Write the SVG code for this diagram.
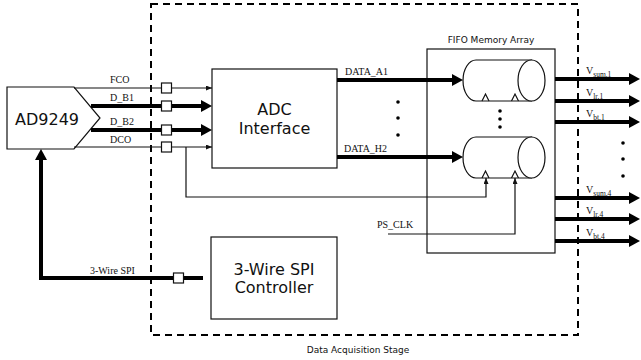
<svg xmlns="http://www.w3.org/2000/svg" width="641" height="360" viewBox="0 0 641 360">
<style>
.box{fill:#fff;stroke:#111;stroke-width:1.2}
.frame{fill:none;stroke:#111;stroke-width:1.2}
.thin{fill:none;stroke:#111;stroke-width:1.2}
.thick{fill:none;stroke:#000;stroke-width:4;stroke-linejoin:miter}
.sq{fill:#fff;stroke:#111;stroke-width:1.2}
.big{font-family:"DejaVu Sans",Verdana,sans-serif;font-size:16px;fill:#111;text-anchor:middle}
.small{font-family:"DejaVu Sans",Verdana,sans-serif;font-size:9px;fill:#111;text-anchor:middle}
.lbl{font-family:"Liberation Serif","Times New Roman",serif;font-size:10px;fill:#111}
.sub{font-size:7.5px}
.dot{fill:#000}
</style>
<defs>
<marker id="ab" markerUnits="userSpaceOnUse" markerWidth="11" markerHeight="12" refX="3" refY="6" orient="auto">
<path d="M0,0 L11,6 L0,12 z" fill="#000"/>
</marker>
<marker id="as" markerUnits="userSpaceOnUse" markerWidth="6" markerHeight="5" refX="6" refY="2.5" orient="auto">
<path d="M0,0 L6,2.5 L0,5 z" fill="#111"/>
</marker>
</defs>
<rect width="641" height="360" fill="#fff"/>

<g id="stage">
<rect x="151" y="4" width="427" height="331" fill="none" stroke="#000" stroke-width="2" stroke-dasharray="7,5"/>
<text class="small" x="358" y="353">Data Acquisition Stage</text>
</g>

<g id="ad9249">
<path class="box" d="M7,87 L74,87 L100,118 L74,149 L7,149 Z"/>
<text class="big" x="47" y="125">AD9249</text>
</g>

<g id="adc-interface">
<rect class="box" x="212" y="69" width="125" height="99"/>
<text class="big" x="274.5" y="115">ADC</text>
<text class="big" x="274.5" y="134">Interface</text>
</g>

<g id="spi-controller">
<rect class="box" x="211" y="237" width="126" height="82"/>
<text class="big" x="274" y="275">3-Wire SPI</text>
<text class="big" x="274" y="293">Controller</text>
</g>

<g id="fifo">
<rect class="frame" x="427" y="49" width="128" height="204"/>
<text class="small" x="491" y="43">FIFO Memory Array</text>
</g>

<g id="fifo-1">
<path class="box" d="M476,60 L531.5,60 L531.5,101 L476,101 A13,20.5 0 0 1 476,60 Z"/>
<ellipse class="box" cx="531.5" cy="80.5" rx="13.5" ry="20.5"/>
<path class="thin" d="M482,101 L485.5,94 L489,101 M511.5,101 L515,94 L518.5,101"/>
</g>

<g id="fifo-2">
<path class="box" d="M476,137 L531.5,137 L531.5,178 L476,178 A13,20.5 0 0 1 476,137 Z"/>
<ellipse class="box" cx="531.5" cy="157.5" rx="13.5" ry="20.5"/>
<path class="thin" d="M482,178 L485.5,171 L489,178 M511.5,178 L515,171 L518.5,178"/>
</g>

<g id="fifo-dots">
<circle class="dot" cx="500" cy="111" r="1.8"/>
<circle class="dot" cx="500" cy="119" r="1.8"/>
<circle class="dot" cx="500" cy="127" r="1.8"/>
</g>

<g id="connectors">
<path class="thin" d="M74,88 L212,88" marker-end="url(#as)"/>
<path class="thick" d="M91,106 L204,106" marker-end="url(#ab)"/>
<path class="thick" d="M91,130 L204,130" marker-end="url(#ab)"/>
<path class="thin" d="M74,147 L212,147" marker-end="url(#as)"/>
<path class="thin" d="M186,147 L186,197 L486,197 L486,178" marker-end="url(#as)"/>
<path class="thin" d="M388,234 L515,234 L515,178" marker-end="url(#as)"/>
<path class="thick" d="M337,80 L455,80" marker-end="url(#ab)"/>
<path class="thick" d="M337,157 L455,157" marker-end="url(#ab)"/>
<path class="thick" d="M203,278 L41,278 L41,157" marker-end="url(#ab)"/>
<path class="thick" d="M555,79 L632,79" marker-end="url(#ab)"/>
<path class="thick" d="M555,101 L632,101" marker-end="url(#ab)"/>
<path class="thick" d="M555,122 L632,122" marker-end="url(#ab)"/>
<path class="thick" d="M555,198 L632,198" marker-end="url(#ab)"/>
<path class="thick" d="M555,219 L632,219" marker-end="url(#ab)"/>
<path class="thick" d="M555,241 L632,241" marker-end="url(#ab)"/>
<rect class="sq" x="161.5" y="83" width="10" height="10"/>
<rect class="sq" x="161.5" y="101" width="10" height="10"/>
<rect class="sq" x="161.5" y="125" width="10" height="10"/>
<rect class="sq" x="161.5" y="142" width="10" height="10"/>
<rect class="sq" x="173.5" y="273" width="10" height="10"/>
<text class="lbl" x="110" y="83">FCO</text>
<text class="lbl" x="110" y="101">D_B1</text>
<text class="lbl" x="110" y="125">D_B2</text>
<text class="lbl" x="110" y="143">DCO</text>
<text class="lbl" x="90" y="274">3-Wire SPI</text>
<text class="lbl" x="345" y="75">DATA_A1</text>
<text class="lbl" x="344" y="152">DATA_H2</text>
<text class="lbl" x="377" y="228">PS_CLK</text>
<text class="lbl" x="586" y="74">V<tspan class="sub" dy="3">sum,1</tspan></text>
<text class="lbl" x="586" y="96">V<tspan class="sub" dy="3">lr,1</tspan></text>
<text class="lbl" x="586" y="117">V<tspan class="sub" dy="3">bt,1</tspan></text>
<text class="lbl" x="586" y="193">V<tspan class="sub" dy="3">sum,4</tspan></text>
<text class="lbl" x="586" y="214">V<tspan class="sub" dy="3">lr,4</tspan></text>
<text class="lbl" x="586" y="236">V<tspan class="sub" dy="3">bt,4</tspan></text>
<circle class="dot" cx="398" cy="102" r="1.8"/>
<circle class="dot" cx="398" cy="118" r="1.8"/>
<circle class="dot" cx="398" cy="135" r="1.8"/>
<circle class="dot" cx="623" cy="143" r="1.8"/>
<circle class="dot" cx="623" cy="159" r="1.8"/>
<circle class="dot" cx="623" cy="176" r="1.8"/>
</g>
</svg>
